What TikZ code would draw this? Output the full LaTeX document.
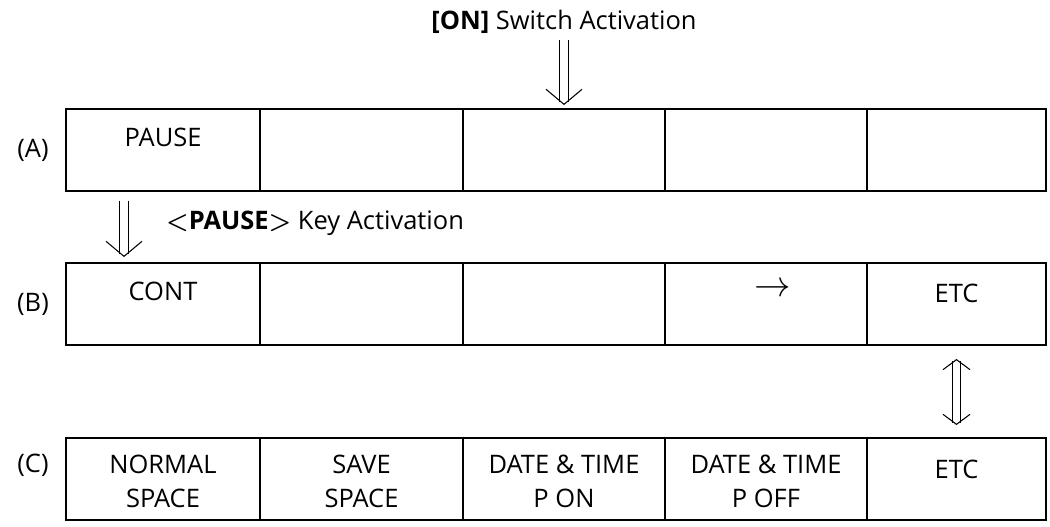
\documentclass[tikz,border=0pt]{standalone}
\usepackage{fontspec}
\setmainfont{Open Sans}
\usetikzlibrary{positioning}
\usetikzlibrary{arrows.meta}
\usetikzlibrary{decorations.markings}

\begin{document}
\begin{tikzpicture}[
    every node/.style={font=\fontsize{14.5}{19.4}\selectfont},
    cell/.style={draw, line width=1pt, minimum height=1.64cm, inner sep=0pt, outer sep=0pt},
    dshaft/.style={double, line width=0.6pt, double distance=4pt},
    dhead/.style={decorate, decoration={markings,
        mark=at position 1 with {\arrow[line width=0.6pt]{Straight Barb[length=0.3cm, width=0.72cm]}}}},
    dheads/.style={decorate, decoration={markings,
        mark=at position 0 with {\arrowreversed[line width=0.6pt]{Straight Barb[length=0.2cm, width=0.54cm]}},
        mark=at position 1 with {\arrow[line width=0.6pt]{Straight Barb[length=0.2cm, width=0.54cm]}}}}
]
\useasboundingbox (0,0) rectangle (21,-10.54);

% Row (A)
\node[cell, minimum width=3.88cm, anchor=north west] (a1) at (1.32,-2.18) {};
\node[cell, minimum width=4.06cm, right=0pt of a1] (a2) {};
\node[cell, minimum width=4.04cm, right=0pt of a2] (a3) {};
\node[cell, minimum width=4.04cm, right=0pt of a3] (a4) {};
\node[cell, minimum width=3.58cm, right=0pt of a4] (a5) {};
\node (la) at ([xshift=-0.66cm]a1.west) {(A)};
\node (pause) at ([yshift=-0.56cm]a1.north) {PAUSE};

% Row (B)
\node[cell, minimum width=3.88cm, anchor=north west] (b1) at (1.32,-5.26) {};
\node[cell, minimum width=4.06cm, right=0pt of b1] (b2) {};
\node[cell, minimum width=4.04cm, right=0pt of b2] (b3) {};
\node[cell, minimum width=4.04cm, right=0pt of b3] (b4) {};
\node[cell, minimum width=3.58cm, right=0pt of b4] (b5) {};
\node (lb) at ([xshift=-0.66cm]b1.west) {(B)};
\node (cont) at ([yshift=-0.56cm]b1.north) {CONT};
\node[font=\fontsize{20}{20}\selectfont] (rarr) at ([xshift=0.14cm, yshift=-0.54cm]b4.north) {$\rightarrow$};
\node (etcb) at ([yshift=-0.6cm]b5.north) {ETC};

% Row (C)
\node[cell, minimum width=3.88cm, anchor=north west] (c1) at (1.32,-8.76) {};
\node[cell, minimum width=4.06cm, right=0pt of c1] (c2) {};
\node[cell, minimum width=4.04cm, right=0pt of c2] (c3) {};
\node[cell, minimum width=4.04cm, right=0pt of c3] (c4) {};
\node[cell, minimum width=3.58cm, right=0pt of c4] (c5) {};
\node (lc) at ([xshift=-0.66cm, yshift=0.28cm]c1.west) {(C)};
\node[align=center] (normal) at ([yshift=-0.86cm]c1.north) {NORMAL\\SPACE};
\node[align=center] (save) at ([yshift=-0.86cm]c2.north) {SAVE\\SPACE};
\node[align=center] (pon) at ([yshift=-0.86cm]c3.north) {DATE \& TIME\\P ON};
\node[align=center] (poff) at ([yshift=-0.86cm]c4.north) {DATE \& TIME\\P OFF};
\node (etcc) at ([yshift=-0.62cm]c5.north) {ETC};

% [ON] switch
\node (onsw) at ([yshift=1.74cm]a3.north) {\textbf{[ON]} Switch Activation};
\coordinate (ontip) at ([yshift=0.08cm]a3.north);
\draw[dshaft, shorten >=0.06cm] (onsw) -- (ontip);
\path[dhead] (onsw) -- (ontip);

% <PAUSE> key
\coordinate (pstart) at ([xshift=-0.78cm, yshift=-0.2cm]a1.south);
\coordinate (ptip) at ([xshift=-0.78cm, yshift=0.12cm]b1.north);
\draw[dshaft, shorten >=0.06cm] (pstart) -- (ptip);
\path[dhead] (pstart) -- (ptip);
\node[anchor=west] (pausekey) at (3.2,-4.46) {\textbf{\boldmath$<$PAUSE$>$} Key Activation};

% ETC toggles between (B) and (C)
\coordinate (etop) at ([yshift=-0.28cm]b5.south);
\coordinate (ebot) at ([yshift=0.26cm]c5.north);
\draw[dshaft, shorten <=0.05cm, shorten >=0.05cm] (etop) -- (ebot);
\path[dheads] (etop) -- (ebot);
\end{tikzpicture}
\end{document}
